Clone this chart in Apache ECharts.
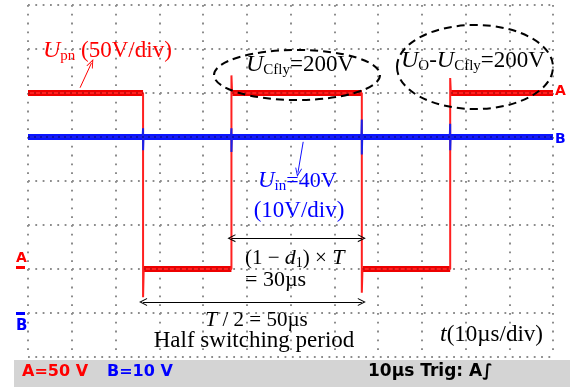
<!DOCTYPE html>
<html>
<head>
<meta charset="utf-8">
<script src="https://cdn.jsdelivr.net/npm/echarts@6/dist/echarts.min.js"></script>
<style>
  html, body { margin: 0; padding: 0; background: #fff; }
  #chart { width: 576px; height: 387px; }
</style>
</head>
<body>
<div id="chart"></div>
<script>
// time base: 10 µs/div, 12 div
const timeTicks = [0, 10, 20, 30, 40, 50, 60, 70, 80, 90, 100, 110, 120]

// channel A (U_pn, 50 V/div): level segments and edge overshoot
const aStart = [0, 26.3, 46.5, 76.3, 96.5]
const aEnd = [26.3, 46.5, 76.3, 96.5, 120]
const aLevel = [200, 0, 200, 0, 200]
const aPeak = [-32, 220, -27, 217]

// channel B (U_in, 10 V/div): flat 40 V with switching spikes
const bLevel = 40
const bSpikeHi = [42, 42, 44, 43]
const bSpikeLo = [37, 36.6, 36, 37]

const serif = "Liberation Serif"
const sans = "DejaVu Sans"

// thin chevron used as an arrow head
const chevron = "path://M0,10 L5,0 L10,10 L8.6,10 L5,2.8 L1.4,10 Z"

// full A waveform (edges + levels)
const aWave = []
aStart.forEach((t, i) => {
  aWave.push([t, aLevel[i]])
  aWave.push([aEnd[i], aLevel[i]])
  if (i < aPeak.length) {
    aWave.push([aEnd[i], aPeak[i]])
    aWave.push([aEnd[i] + 0.15, aLevel[i + 1]])
  }
})

// thick level band for A
const aBand = []
aStart.forEach((t, i) => {
  aBand.push([t + (i ? 0.2 : 0), aLevel[i]])
  aBand.push([aEnd[i], aLevel[i]])
  aBand.push([aEnd[i], "-"])
})

// B: thick flat band + thin trace with spikes
const bBand = [[timeTicks[0], bLevel], [timeTicks[timeTicks.length - 1], bLevel]]
const bWave = [[0, bLevel]]
aEnd.slice(0, 4).forEach((t, i) => {
  bWave.push([t - 0.1, bLevel])
  bWave.push([t, bSpikeHi[i]])
  bWave.push([t, bSpikeLo[i]])
  bWave.push([t + 0.1, bLevel])
})
bWave.push([120, bLevel])

const myChart = echarts.init(document.getElementById("chart"))

const dotColor = "#8c8c8c"

// rich text styles shared by the annotations
const richFor = (color, size) => ({
  u: { fontFamily: serif, fontStyle: "italic", fontSize: size + 1, color },
  s: { fontFamily: serif, fontSize: Math.round(size * 0.66), color, padding: [10, 0, 0, 0] },
  n: { fontFamily: serif, fontSize: size, color },
})

const label = (x, y, text, color, size, align) => ({
  type: "text",
  x,
  y,
  z: 100,
  style: {
    text,
    rich: richFor(color, size),
    align: align || "left",
    verticalAlign: "middle",
    fill: color,
    font: `${size}px ${serif}`,
  },
})

const option = {
  animation: false,
  backgroundColor: "#fff",
  grid: { left: 28, top: 5, width: 525, height: 352 },
  xAxis: {
    type: "value",
    min: timeTicks[0],
    max: timeTicks[timeTicks.length - 1],
    interval: 10,
    axisLine: { show: false },
    axisTick: { show: false },
    axisLabel: { show: false },
    splitLine: {
      show: true,
      lineStyle: { color: dotColor, width: 2, type: [1.8, 7] },
    },
  },
  yAxis: [
    {
      type: "value",
      min: -100,
      max: 300,
      interval: 50,
      axisLine: { show: false },
      axisTick: { show: false },
      axisLabel: { show: false },
      splitLine: {
        show: true,
        lineStyle: { color: dotColor, width: 2, type: [1.8, 5.53] },
      },
    },
    {
      type: "value",
      min: -10,
      max: 70,
      interval: 10,
      axisLine: { show: false },
      axisTick: { show: false },
      axisLabel: { show: false },
      splitLine: { show: false },
    },
  ],
  series: [
    {
      type: "line",
      yAxisIndex: 0,
      data: aBand,
      showSymbol: false,
      silent: true,
      connectNulls: false,
      lineStyle: { color: "#ee0000", width: 6 },
      z: 3,
    },
    {
      type: "line",
      yAxisIndex: 0,
      data: aWave,
      showSymbol: false,
      silent: true,
      lineStyle: { color: "#ff2020", width: 2 },
      z: 4,
      markLine: {
        silent: true,
        symbol: [chevron, chevron],
        symbolSize: [8, 8],
        label: { show: false },
        lineStyle: { color: "#000", width: 1, type: "solid" },
        data: [
          [{ coord: [aEnd[1], 35] }, { coord: [aEnd[2], 35] }],
          [{ coord: [aEnd[0], -37.5] }, { coord: [aEnd[2], -37.5] }],
        ],
      },
    },
    {
      type: "line",
      yAxisIndex: 0,
      data: aBand,
      showSymbol: false,
      silent: true,
      lineStyle: { color: "#8a0000", width: 1, type: [2, 4] },
      z: 5,
      markLine: {
        silent: true,
        symbol: ["none", chevron],
        symbolSize: [7, 9],
        label: { show: false },
        lineStyle: { color: "#ff0000", width: 1, type: "solid" },
        data: [[{ coord: [11.9, 206] }, { coord: [14.5, 234] }]],
      },
    },
    {
      type: "line",
      yAxisIndex: 1,
      data: bBand,
      showSymbol: false,
      silent: true,
      lineStyle: { color: "#0a14ff", width: 6 },
      z: 6,
    },
    {
      type: "line",
      yAxisIndex: 1,
      data: bWave,
      showSymbol: false,
      silent: true,
      lineStyle: { color: "#1a20e8", width: 2 },
      z: 7,
      markLine: {
        silent: true,
        symbol: ["none", chevron],
        symbolSize: [7, 9],
        label: { show: false },
        lineStyle: { color: "#1010ff", width: 1, type: "solid" },
        data: [[{ coord: [62.9, 38.9] }, { coord: [61.7, 31.9] }]],
      },
    },
    {
      type: "line",
      yAxisIndex: 1,
      data: bBand,
      showSymbol: false,
      silent: true,
      lineStyle: { color: "#00007a", width: 1, type: [2, 4] },
      z: 8,
    },
  ],
  graphic: [
    // dashed ellipses
    {
      type: "ellipse",
      z: 90,
      shape: { cx: 297, cy: 75, rx: 83, ry: 25 },
      style: { fill: "none", stroke: "#000", lineWidth: 2, lineDash: [8, 5] },
    },
    {
      type: "ellipse",
      z: 90,
      shape: { cx: 475, cy: 67, rx: 78, ry: 42 },
      style: { fill: "none", stroke: "#000", lineWidth: 2, lineDash: [8, 5] },
    },
    label(43, 51, "{u|U}{s|pn}{n| (50V/div)}", "#ff0000", 23),
    label(246, 65, "{u|U}{s|Cfly}{n|=200V}", "#000", 23),
    label(401, 61, "{u|U}{s|O}{n|-}{u|U}{s|Cfly}{n|=200V}", "#000", 23),
    label(258, 181, "{u|U}{s|in}{n|=40V}", "#0000ff", 22),
    label(299, 211, "{n|(10V/div)}", "#0000ff", 23, "center"),
    label(245, 258, "{n|(1 − }{u|d}{s|1}{n|) × }{u|T}", "#000", 21),
    label(245, 280, "{n|= 30µs}", "#000", 22),
    label(205, 320, "{u|T}{n| / 2 = 50µs}", "#000", 21),
    label(254, 341, "{n|Half switching period}", "#000", 23, "center"),
    label(440, 335, "{u|t}{n|(10µs/div)}", "#000", 23),
    // channel markers
    {
      type: "text", x: 16, y: 251, z: 100,
      style: { text: "A", fill: "#ff0000", font: `bold 14px ${sans}` },
    },
    { type: "rect", z: 100, shape: { x: 16, y: 266, width: 9, height: 3 }, style: { fill: "#ff0000" } },
    { type: "rect", z: 100, shape: { x: 16, y: 312, width: 9, height: 3 }, style: { fill: "#0000ff" } },
    {
      type: "text", x: 16, y: 319, z: 100,
      style: { text: "B", fill: "#0000ff", font: `bold 15px ${sans}` },
    },
    {
      type: "text", x: 555, y: 84, z: 100,
      style: { text: "A", fill: "#ff0000", font: `bold 14px ${sans}` },
    },
    {
      type: "text", x: 555, y: 132, z: 100,
      style: { text: "B", fill: "#0000ff", font: `bold 14px ${sans}` },
    },
    // status bar
    { type: "rect", z: 80, shape: { x: 14, y: 360, width: 556, height: 27 }, style: { fill: "#d4d4d4" } },
    {
      type: "text", x: 22, y: 364, z: 100,
      style: { text: "A=50 V", fill: "#ff0000", font: `bold 16px ${sans}` },
    },
    {
      type: "text", x: 107, y: 364, z: 100,
      style: { text: "B=10 V", fill: "#0000ff", font: `bold 16px ${sans}` },
    },
    {
      type: "text", x: 368, y: 363, z: 100,
      style: { text: "10µs Trig: A∫", fill: "#000", font: `bold 17px ${sans}` },
    },
  ],
}

myChart.setOption(option)
</script>
</body>
</html>
